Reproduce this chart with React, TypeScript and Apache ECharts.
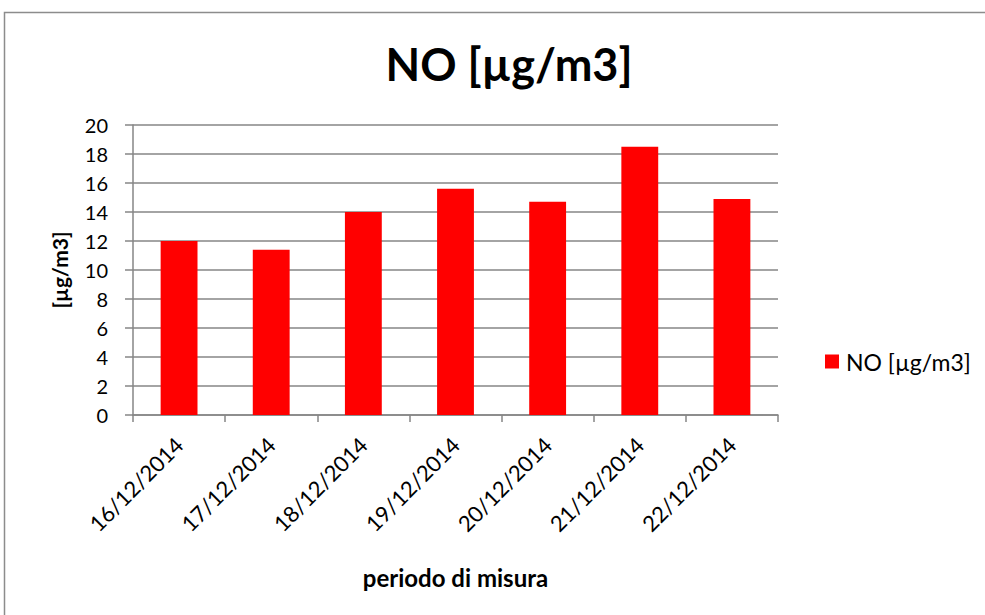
import React, { useEffect, useRef } from "react";
import * as echarts from "echarts";

const categories = ["16/12/2014", "17/12/2014", "18/12/2014", "19/12/2014", "20/12/2014", "21/12/2014", "22/12/2014"];
const noValues = [12.0, 11.4, 14.0, 15.6, 14.7, 18.5, 14.9];
const seriesName = "NO [µg/m3]";

export default function App() {
  const ref = useRef<HTMLDivElement>(null);
  useEffect(() => {
    if (!ref.current) return;
    const chart = echarts.init(ref.current, null, { renderer: "svg" });
    const font = "Lato, 'Open Sans', sans-serif";
    chart.setOption({
      animation: false,
      backgroundColor: "#ffffff",
      graphic: [
        {
          type: "rect",
          shape: { x: 4.5, y: 12.5, width: 1000, height: 700 },
          style: { fill: "none", stroke: "#8c8c8c", lineWidth: 1.5 },
          silent: true,
        },
      ],
      title: {
        text: "NO [µg/m3]",
        left: 504,
        top: 36,
        textAlign: "center",
        textStyle: { fontFamily: font, fontSize: 45, fontWeight: "bold", color: "#000" },
      },
      legend: {
        left: 820,
        top: 345,
        itemWidth: 14,
        itemHeight: 14,
        itemGap: 7,
        icon: "rect",
        textStyle: { fontFamily: font, fontSize: 23, color: "#000", padding: [0, 0, 0, 2] },
        data: [seriesName],
      },
      grid: { left: 133, right: 207, top: 125, bottom: 200, containLabel: false },
      xAxis: {
        type: "category",
        data: categories,
        name: "periodo di misura",
        nameLocation: "middle",
        nameGap: 150,
        nameTextStyle: { fontFamily: font, fontSize: 24, fontWeight: "bold", color: "#000" },
        axisLine: { lineStyle: { color: "#868686", width: 1.5 } },
        axisTick: { show: true, length: 7, alignWithLabel: false, lineStyle: { color: "#868686", width: 1.5 } },
        axisLabel: {
          interval: 0,
          rotate: 45,
          fontFamily: font,
          fontSize: 22,
          color: "#000",
          margin: 26,
        },
      },
      yAxis: {
        type: "value",
        min: 0,
        max: 20,
        interval: 2,
        name: "[µg/m3]",
        nameLocation: "middle",
        nameGap: 63,
        nameRotate: 90,
        nameTextStyle: { fontFamily: font, fontSize: 21, fontWeight: "bold", color: "#000" },
        axisLine: { show: true, lineStyle: { color: "#868686", width: 1.5 } },
        axisTick: { show: true, length: 8, lineStyle: { color: "#868686", width: 1.5 } },
        splitLine: { show: true, lineStyle: { color: "#868686", width: 1.5 } },
        axisLabel: { fontFamily: font, fontSize: 20, color: "#000", margin: 25 },
      },
      series: [
        {
          name: seriesName,
          type: "bar",
          data: noValues,
          barWidth: "40%",
          itemStyle: { color: "#ff0000" },
        },
      ],
    });
    return () => chart.dispose();
  }, []);
  return <div ref={ref} style={{ position: "fixed", left: 0, top: 0, width: 985, height: 615 }} />;
}
